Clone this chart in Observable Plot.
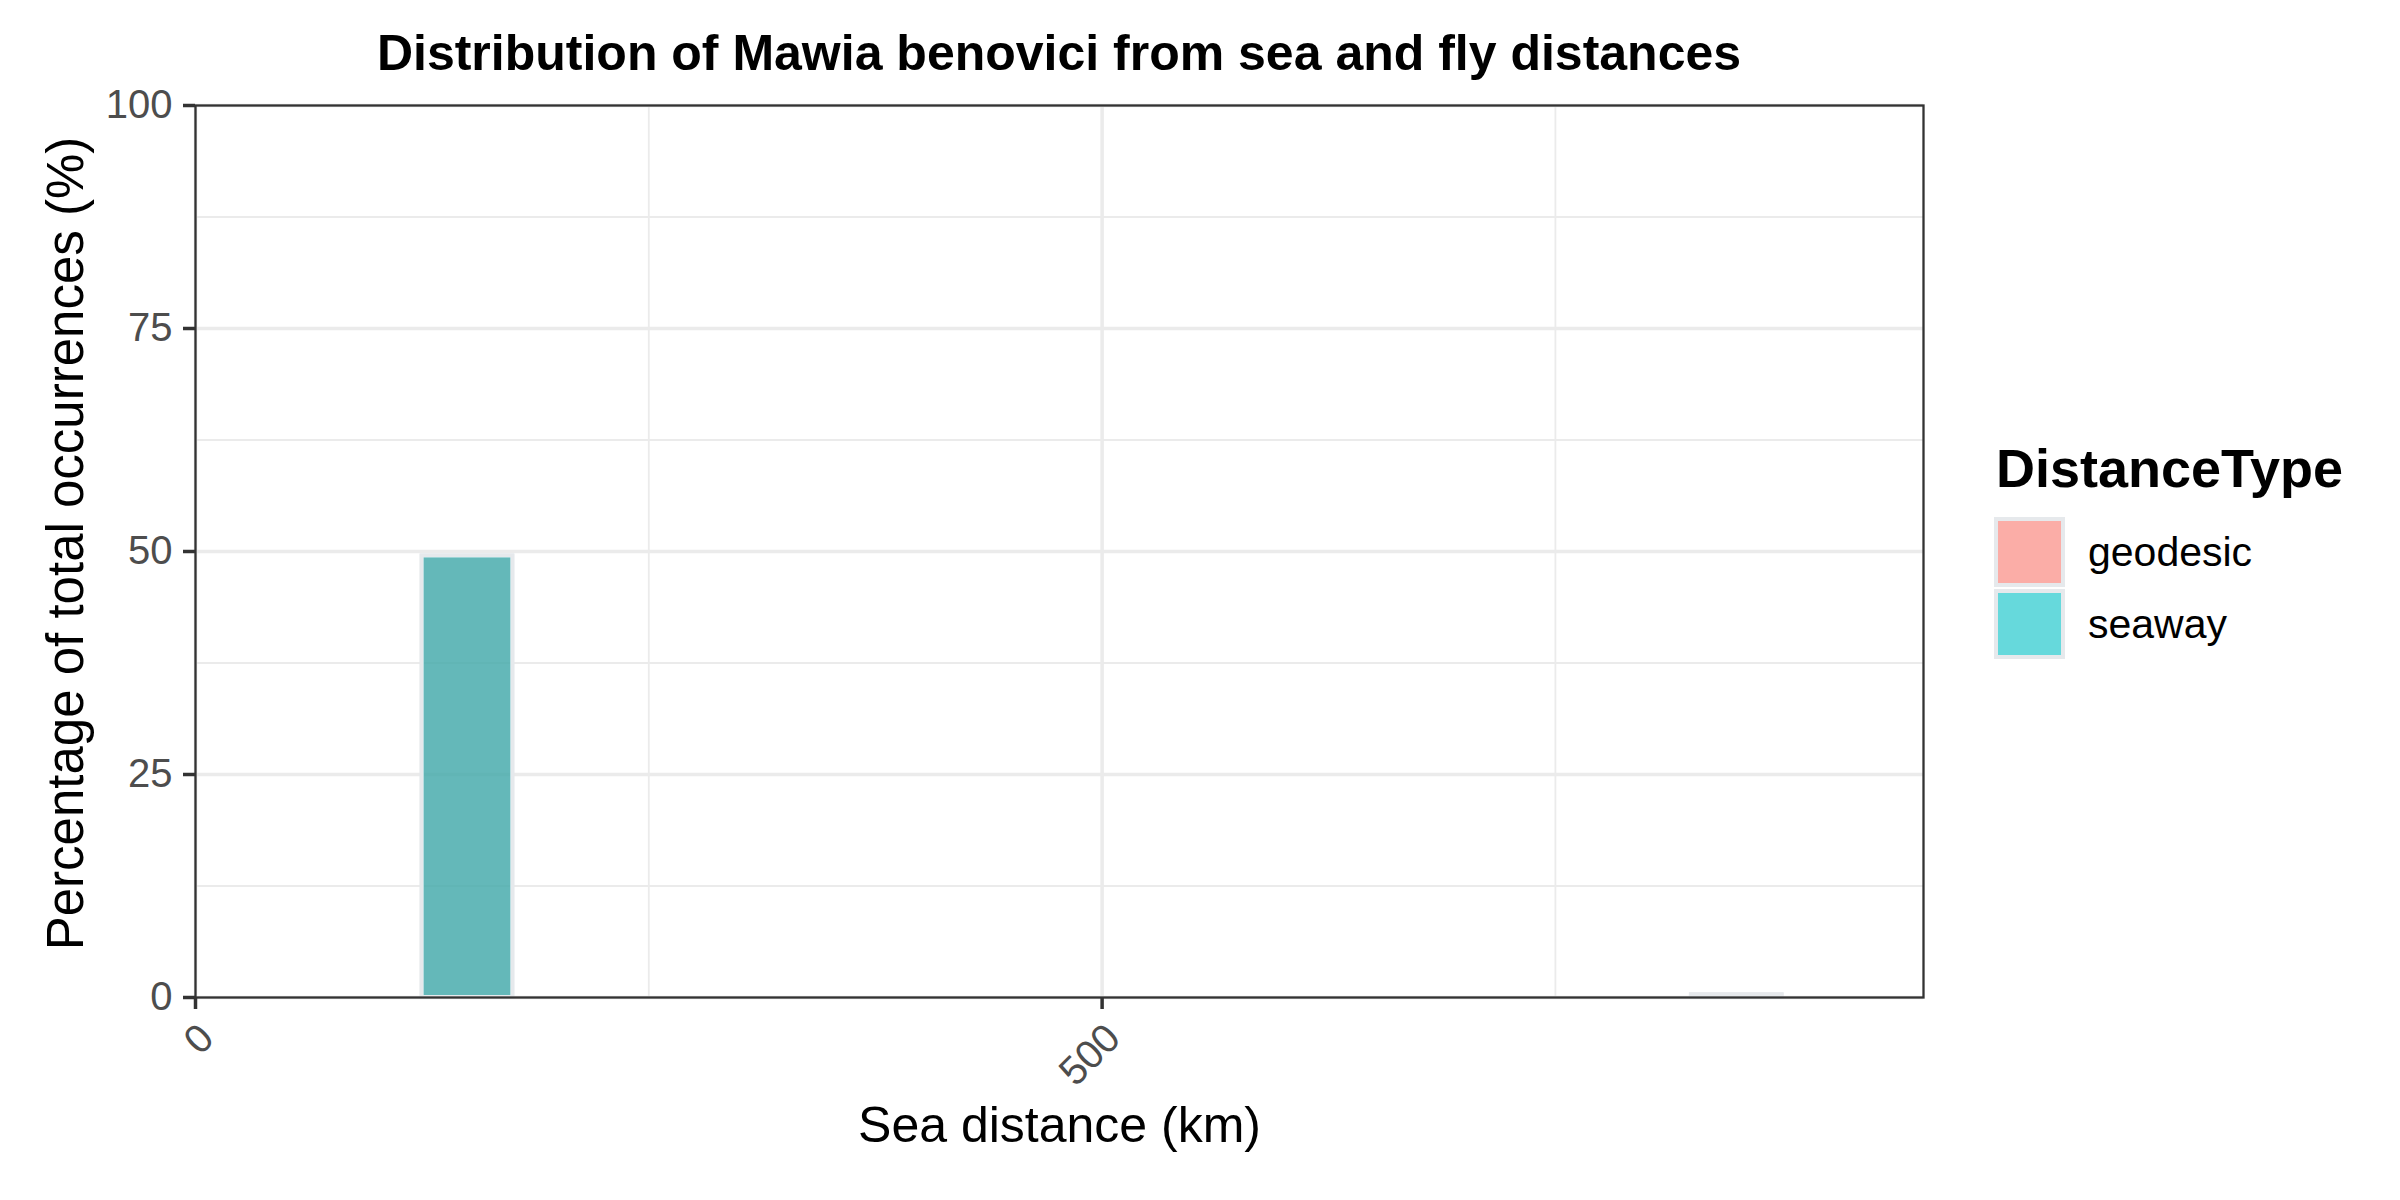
<!DOCTYPE html>
<html>
<head>
<meta charset="utf-8">
<script src="https://cdn.jsdelivr.net/npm/d3@7"></script>
<script src="https://cdn.jsdelivr.net/npm/@observablehq/plot@0.6"></script>
<style>
  html, body { margin: 0; padding: 0; background: #ffffff; }
  #wrap { position: relative; width: 2400px; height: 1200px; background: #ffffff;
          font-family: "Liberation Sans", Arial, Helvetica, sans-serif; overflow: hidden; }
  #title { position: absolute; left: 195px; width: 1728px; top: 27.7px; text-align: center;
           font-size: 50px; line-height: 50px; font-weight: bold; color: #000; white-space: nowrap; }
  #chart { position: absolute; left: 0; top: 80px; }
  .lg-title { position: absolute; left: 1996px; top: 441px; font-size: 54px; line-height: 54px;
              font-weight: bold; color: #000; white-space: nowrap; }
  .lg-key { position: absolute; left: 1994px; width: 71px; height: 70px; box-sizing: border-box;
            border: 4.5px solid #e6e9ec; }
  .lg-label { position: absolute; left: 2088px; font-size: 41px; line-height: 41px; color: #000; white-space: nowrap; }
</style>
</head>
<body>
<div id="wrap">
  <div id="title">Distribution of Mawia benovici from sea and fly distances</div>
  <div id="chart"></div>
  <div id="legend"></div>
</div>
<script>
// ---- data ----
const distanceTypes = ["geodesic", "seaway"];
const binStart = [125, 825];          // km
const binEnd = [175, 875];            // km
const geodesicPct = [49.5, 0.3];      // % of total occurrences
const seawayPct = [49.5, 0.3];        // % of total occurrences
const xTicks = [0, 500];
const xMinorTicks = [250, 750];
const yTicks = [0, 25, 50, 75, 100];
const yMinorTicks = [12.5, 37.5, 62.5, 87.5];
const titleText = "Distribution of Mawia benovici from sea and fly distances";
const xLabel = "Sea distance (km)";
const yLabel = "Percentage of total occurrences (%)";
const legendTitle = "DistanceType";

// ---- build table ----
const seriesValues = {geodesic: geodesicPct, seaway: seawayPct};
const rows = [];
for (const type of distanceTypes) {
  binStart.forEach((s, i) => rows.push({type, x1: s, x2: binEnd[i], pct: seriesValues[type][i]}));
}

const typeColors = ["#F8766D", "#00BFC4"];
const gridColor = "#EBEBEB";
const font = "'Liberation Sans', Arial, Helvetica, sans-serif";

const chart = Plot.plot({
  width: 2400,
  height: 1120,
  marginTop: 25,
  marginBottom: 203,
  marginLeft: 195,
  marginRight: 477,
  style: {fontFamily: font, background: "white", color: "#000"},
  x: {domain: [0, 953]},
  y: {domain: [0, 100]},
  color: {domain: distanceTypes, range: typeColors},
  marks: [
    Plot.gridX(xMinorTicks, {stroke: gridColor, strokeOpacity: 1, strokeWidth: 1.8}),
    Plot.gridY(yMinorTicks, {stroke: gridColor, strokeOpacity: 1, strokeWidth: 1.8}),
    Plot.gridX(xTicks, {stroke: gridColor, strokeOpacity: 1, strokeWidth: 3.5}),
    Plot.gridY(yTicks, {stroke: gridColor, strokeOpacity: 1, strokeWidth: 3.5}),
    Plot.rect(rows, {
      x1: "x1", x2: "x2", y1: 0, y2: "pct",
      fill: "type", fillOpacity: 0.6,
      stroke: "#e6e9ec", strokeWidth: 4
    }),
    Plot.frame({stroke: "#333333", strokeWidth: 2.3}),
    Plot.axisY(yTicks, {
      anchor: "left", tickSize: 12, tickPadding: 11, stroke: "#333333", strokeWidth: 3.5,
      fill: "#4D4D4D", fontSize: 40, label: null, tickFormat: d => String(d)
    }),
    Plot.axisX(xTicks, {
      anchor: "bottom", tickSize: 12, stroke: "#333333", strokeWidth: 3.5,
      fill: "none", label: null
    }),
    Plot.text(xTicks, {
      x: d => d, frameAnchor: "bottom", text: d => String(d),
      rotate: -45, textAnchor: "end", lineAnchor: "bottom",
      dx: 20.5, dy: 43, fontSize: 40, fill: "#4D4D4D"
    }),
    Plot.text([xLabel], {
      frameAnchor: "bottom", text: d => d, lineAnchor: "bottom",
      dy: 144, fontSize: 50, fill: "#000"
    }),
    Plot.text([yLabel], {
      frameAnchor: "left", text: d => d, rotate: -90, lineAnchor: "bottom",
      textAnchor: "middle", dx: -113, dy: -8, fontSize: 51, fill: "#000"
    })
  ]
});
document.getElementById("chart").appendChild(chart);
document.getElementById("title").textContent = titleText;

// ---- legend ----
const legend = document.getElementById("legend");
const lt = document.createElement("div");
lt.className = "lg-title";
lt.textContent = legendTitle;
legend.appendChild(lt);
const keyTops = [517, 589];
distanceTypes.forEach((type, i) => {
  const c = d3.rgb(typeColors[i]);
  const key = document.createElement("div");
  key.className = "lg-key";
  key.style.top = keyTops[i] + "px";
  key.style.background = `rgba(${c.r},${c.g},${c.b},0.6)`;
  legend.appendChild(key);
  const lab = document.createElement("div");
  lab.className = "lg-label";
  lab.style.top = (keyTops[i] + 15) + "px";
  lab.textContent = type;
  legend.appendChild(lab);
});
</script>
</body>
</html>
